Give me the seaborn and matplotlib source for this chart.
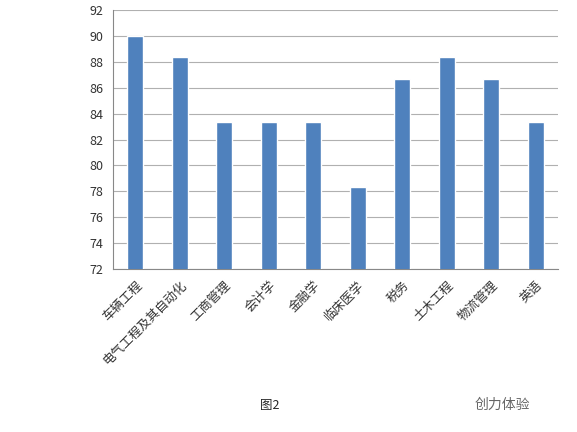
import matplotlib
matplotlib.use('Agg')
import matplotlib.pyplot as plt
import seaborn as sns
import pandas as pd

majors = ['车辆工程', '电气工程及其自动化', '工商管理', '会计学', '金融学',
          '临床医学', '税务', '土木工程', '物流管理', '英语']
scores = [90.0, 88.33, 83.33, 83.33, 83.33, 78.33, 86.67, 88.33, 86.67, 83.33]

sns.set_style('white')
plt.rcParams['font.family'] = ['Noto Sans CJK SC', 'DejaVu Sans']

df = pd.DataFrame({'major': majors, 'score': scores})

fig = plt.figure(figsize=(5.77, 4.32), dpi=100)
ax = fig.add_axes([0.196, 0.377, 0.771, 0.6])
sns.barplot(data=df, x='major', y='score', color='#4F81BD', saturation=1,
            width=0.36, ax=ax, zorder=3)
ax.set_ylim(72, 92)
ax.set_yticks(range(72, 93, 2))
ax.grid(axis='y', color='#b0b0b0', linewidth=0.8, zorder=0)
ax.set_xlabel('')
ax.set_ylabel('')
for s in ['top', 'right']:
    ax.spines[s].set_visible(False)
ax.spines['left'].set_color('#888888')
ax.spines['bottom'].set_color('#888888')
ax.tick_params(axis='both', labelsize=9, colors='#333333')
plt.setp(ax.get_xticklabels(), rotation=45, ha='right', rotation_mode='anchor')

fig.text(0.468, 0.062, '图2', fontsize=9, ha='center', va='center')
fig.text(0.87, 0.062, '创力体验', fontsize=10, ha='center', va='center', color='#666666')

fig.savefig('out.png', dpi=100)
